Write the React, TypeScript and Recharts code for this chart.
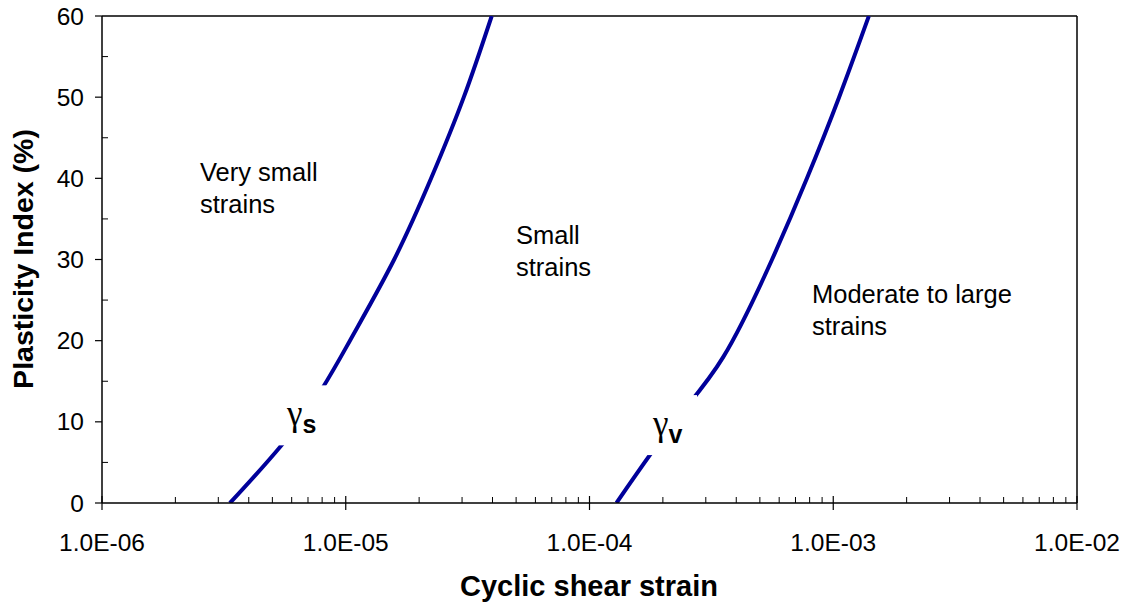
import React from "react"
import {
  ComposedChart,
  Line,
  Scatter,
  XAxis,
  YAxis,
  ReferenceLine,
} from "recharts"

// gamma_s threshold (very small -> small strains)
const gammaS = [
  { x: 3.35e-6, y: 0 },
  { x: 6.5e-6, y: 10 },
  { x: 1.04e-5, y: 20 },
  { x: 1.58e-5, y: 30 },
  { x: 2.24e-5, y: 40 },
  { x: 3.05e-5, y: 50 },
  { x: 3.97e-5, y: 60 },
]

// gamma_v threshold (small -> moderate/large strains)
const gammaV = [
  { x: 1.29e-4, y: 0 },
  { x: 2.23e-4, y: 10 },
  { x: 3.54e-4, y: 18 },
  { x: 5.61e-4, y: 30 },
  { x: 7.8e-4, y: 40 },
  { x: 1.057e-3, y: 50 },
  { x: 1.4e-3, y: 60 },
]

const curveLabels = [
  { x: 6.8e-6, y: 10.8, sub: "s" },
  { x: 2.16e-4, y: 9.6, sub: "v" },
]

const decades = [1e-6, 1e-5, 1e-4, 1e-3, 1e-2]
const yTicks = [0, 5, 10, 15, 20, 25, 30, 35, 40, 45, 50, 55, 60]

const xTicks: number[] = []
decades.forEach((d, i) => {
  xTicks.push(d)
  if (i < decades.length - 1) {
    for (let k = 2; k <= 9; k++) xTicks.push(d * k)
  }
})

const FONT = "'Liberation Sans', Arial, sans-serif"
const LINE = "#00009a"

const isDecade = (v: number) => decades.some((d) => Math.abs(v / d - 1) < 1e-6)

function fmtExp(v: number) {
  const e = Math.round(Math.log10(v))
  const s = String(Math.abs(e)).padStart(2, "0")
  return `1.0E${e < 0 ? "-" : "+"}${s}`
}

function XTick(props: any) {
  const { x, y, payload } = props
  const v = payload.value
  if (isDecade(v)) {
    return (
      <g>
        <line x1={x} x2={x} y1={y - 7} y2={y + 7} stroke="#000" strokeWidth={1.2} />
        <text x={x} y={y + 48} textAnchor="middle" fontSize={24.5} fontFamily={FONT} fill="#000">
          {fmtExp(v)}
        </text>
      </g>
    )
  }
  return <line x1={x} x2={x} y1={y - 6} y2={y} stroke="#000" strokeWidth={1} />
}

function YTick(props: any) {
  const { x, y, payload } = props
  const v = payload.value
  if (v % 10 === 0) {
    return (
      <g>
        <line x1={x - 7} x2={x} y1={y} y2={y} stroke="#000" strokeWidth={1.2} />
        <text x={x - 18} y={y + 8.5} textAnchor="end" fontSize={24.5} fontFamily={FONT} fill="#000">
          {v}
        </text>
      </g>
    )
  }
  return <line x1={x} x2={x + 6} y1={y} y2={y} stroke="#000" strokeWidth={1} />
}

function GammaLabel(props: any) {
  const { cx, cy, payload } = props
  return (
    <g>
      <rect x={cx - 26} y={cy - 30} width={52} height={60} fill="#fff" />
      <text x={cx - 18} y={cy + 10} fontFamily="'Liberation Serif', serif" fill="#000">
        <tspan fontSize={35}>γ</tspan>
        <tspan fontSize={25} fontFamily={FONT} fontWeight="bold" dy={8}>
          {payload.sub}
        </tspan>
      </text>
    </g>
  )
}

const annotations = [
  { x: 200, y: 181, lines: ["Very small", "strains"] },
  { x: 516, y: 244, lines: ["Small", "strains"] },
  { x: 812, y: 303, lines: ["Moderate to large", "strains"] },
]

export default function App() {
  return (
    <div style={{ position: "absolute", left: 0, top: 0, width: 1130, height: 606, background: "#fff" }}>
      <ComposedChart
        width={1130}
        height={606}
        margin={{ top: 16, right: 53, bottom: 0, left: 0 }}
      >
        <XAxis
          dataKey="x"
          type="number"
          scale="log"
          domain={[1e-6, 1e-2]}
          ticks={xTicks}
          interval={0}
          allowDataOverflow
          height={103}
          tickSize={0}
          tickMargin={0}
          tickLine={false}
          tick={<XTick />}
          axisLine={{ stroke: "#000", strokeWidth: 1.5 }}
        />
        <YAxis
          type="number"
          domain={[0, 60]}
          ticks={yTicks}
          interval={0}
          allowDataOverflow
          width={102}
          tickSize={0}
          tickMargin={0}
          tickLine={false}
          tick={<YTick />}
          axisLine={{ stroke: "#000", strokeWidth: 1.5 }}
        />
        <ReferenceLine y={60} stroke="#000" strokeWidth={1.5} />
        <ReferenceLine x={1e-2} stroke="#000" strokeWidth={1.5} />
        <Line
          data={gammaS}
          dataKey="y"
          type="natural"
          stroke={LINE}
          strokeWidth={4}
          dot={false}
          isAnimationActive={false}
        />
        <Line
          data={gammaV}
          dataKey="y"
          type="natural"
          stroke={LINE}
          strokeWidth={4}
          dot={false}
          isAnimationActive={false}
        />
        <Scatter
          data={curveLabels}
          dataKey="y"
          shape={<GammaLabel />}
          isAnimationActive={false}
        />
      </ComposedChart>
      <svg
        width={1130}
        height={606}
        style={{ position: "absolute", left: 0, top: 0, pointerEvents: "none" }}
      >
        {annotations.map((a) => (
          <text key={a.lines[0]} x={a.x} y={a.y} fontSize={25.5} fontFamily={FONT} fill="#000">
            {a.lines.map((l, i) => (
              <tspan key={l} x={a.x} dy={i === 0 ? 0 : 32}>
                {l}
              </tspan>
            ))}
          </text>
        ))}
        <text
          x={589}
          y={596}
          textAnchor="middle"
          fontSize={29}
          fontWeight="bold"
          fontFamily={FONT}
          fill="#000"
        >
          Cyclic shear strain
        </text>
        <text
          transform="translate(33,259) rotate(-90)"
          textAnchor="middle"
          fontSize={28.5}
          fontWeight="bold"
          fontFamily={FONT}
          fill="#000"
        >
          Plasticity Index (%)
        </text>
      </svg>
    </div>
  )
}
